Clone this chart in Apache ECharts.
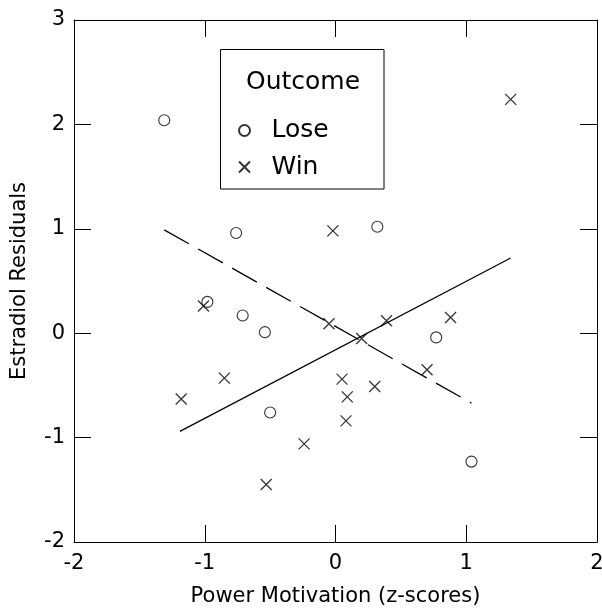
<!DOCTYPE html>
<html>
<head>
<meta charset="utf-8">
<script src="https://cdn.jsdelivr.net/npm/echarts@6/dist/echarts.min.js"></script>
<style>
html,body{margin:0;padding:0;background:#fff;}
#chart{width:602px;height:609px;}
</style>
</head>
<body>
<div id="chart"></div>
<script>
// Data
var loseX = [-1.31, -0.76, 0.32, -0.98, -0.71, -0.54, -0.50, 0.77, 1.04];
var loseY = [2.04, 0.96, 1.02, 0.30, 0.17, 0.01, -0.76, -0.04, -1.23];
var winX = [1.34, -0.02, -1.01, -0.05, 0.20, 0.39, 0.88, 0.70, 0.05, 0.09, 0.08, 0.30, -0.85, -1.18, -0.24, -0.53];
var winY = [2.24, 0.98, 0.26, 0.09, -0.05, 0.12, 0.15, -0.35, -0.44, -0.61, -0.84, -0.51, -0.43, -0.63, -1.06, -1.45];
var solidX = [-1.19, 1.34];
var solidY = [-0.94, 0.72];
var dashX = [-1.31, 1.04];
var dashY = [0.99, -0.67];
var xTitle = 'Power Motivation (z-scores)';
var yTitle = 'Estradiol Residuals';
var legendTitle = 'Outcome';
var seriesNames = ['Lose', 'Win'];

function zip(a, b) { return a.map(function (v, i) { return [v, b[i]]; }); }

var FONT = 'DejaVu Sans';
var crossPath = 'path://M0,0L10,10M10,0L0,10';

function axis(extra) {
  return Object.assign({
    axisLine: { show: true, onZero: false, lineStyle: { color: '#000', width: 1 } },
    axisTick: { show: true, inside: true, length: 17, lineStyle: { color: '#000', width: 1 } },
    splitLine: { show: false }
  }, extra);
}

var chart = echarts.init(document.getElementById('chart'), null, { renderer: 'canvas' });
chart.setOption({
  animation: false,
  backgroundColor: '#fff',
  grid: { left: 74, right: 5, top: 20, bottom: 67, containLabel: false, outerBoundsMode: 'none' },
  title: {
    text: legendTitle, left: 246, top: 70, padding: 0,
    textStyle: { fontFamily: FONT, fontSize: 25, fontWeight: 'normal', color: '#000' }
  },
  legend: {
    orient: 'vertical', left: 238, top: 115.5, padding: 0,
    itemWidth: 12, itemHeight: 11, itemGap: 6.5,
    data: seriesNames,
    textStyle: { fontFamily: FONT, fontSize: 25, color: '#000', lineHeight: 30, padding: [0, 0, 0, 16] }
  },
  graphic: [{
    type: 'rect', z: 100,
    shape: { x: 220.5, y: 49.5, width: 163.5, height: 139.5 },
    style: { fill: 'none', stroke: '#000', lineWidth: 1 }
  }],
  xAxis: [
    axis({
      type: 'value', position: 'bottom', min: -2, max: 2, interval: 1,
      name: xTitle, nameLocation: 'middle', nameGap: 44,
      nameTextStyle: { fontFamily: FONT, fontSize: 21, color: '#000' },
      axisLabel: { fontFamily: FONT, fontSize: 21, color: '#000', margin: 11 }
    }),
    axis({
      type: 'value', position: 'top', min: -2, max: 2, interval: 1,
      axisLabel: { show: false }
    })
  ],
  yAxis: [
    axis({
      type: 'value', position: 'left', min: -2, max: 3, interval: 1,
      name: yTitle, nameLocation: 'middle', nameGap: 44, nameRotate: 90,
      nameTextStyle: { fontFamily: FONT, fontSize: 21, color: '#000' },
      axisLabel: { fontFamily: FONT, fontSize: 21, color: '#000', margin: 9 }
    }),
    axis({
      type: 'value', position: 'right', min: -2, max: 3, interval: 1,
      axisLabel: { show: false }
    })
  ],
  series: [
    {
      name: 'Lose', type: 'scatter', xAxisIndex: 0, yAxisIndex: 0,
      symbol: 'circle', symbolSize: 11,
      itemStyle: { color: 'rgba(255,255,255,0)', borderColor: '#000', borderWidth: 1.1 },
      data: zip(loseX, loseY)
    },
    {
      name: 'Win', type: 'scatter', xAxisIndex: 0, yAxisIndex: 0,
      symbol: crossPath, symbolSize: 11,
      itemStyle: { color: 'rgba(255,255,255,0)', borderColor: '#000', borderWidth: 1.3 },
      data: zip(winX, winY)
    },
    {
      name: 'Win fit', type: 'line', xAxisIndex: 0, yAxisIndex: 0,
      symbol: 'none', silent: true,
      lineStyle: { color: '#000', width: 1.3, type: 'solid' },
      data: zip(solidX, solidY)
    },
    {
      name: 'Lose fit', type: 'line', xAxisIndex: 0, yAxisIndex: 0,
      symbol: 'none', silent: true,
      lineStyle: { color: '#000', width: 1.3, type: [28.3, 10.7] },
      data: zip(dashX, dashY)
    }
  ]
});
</script>
</body>
</html>
